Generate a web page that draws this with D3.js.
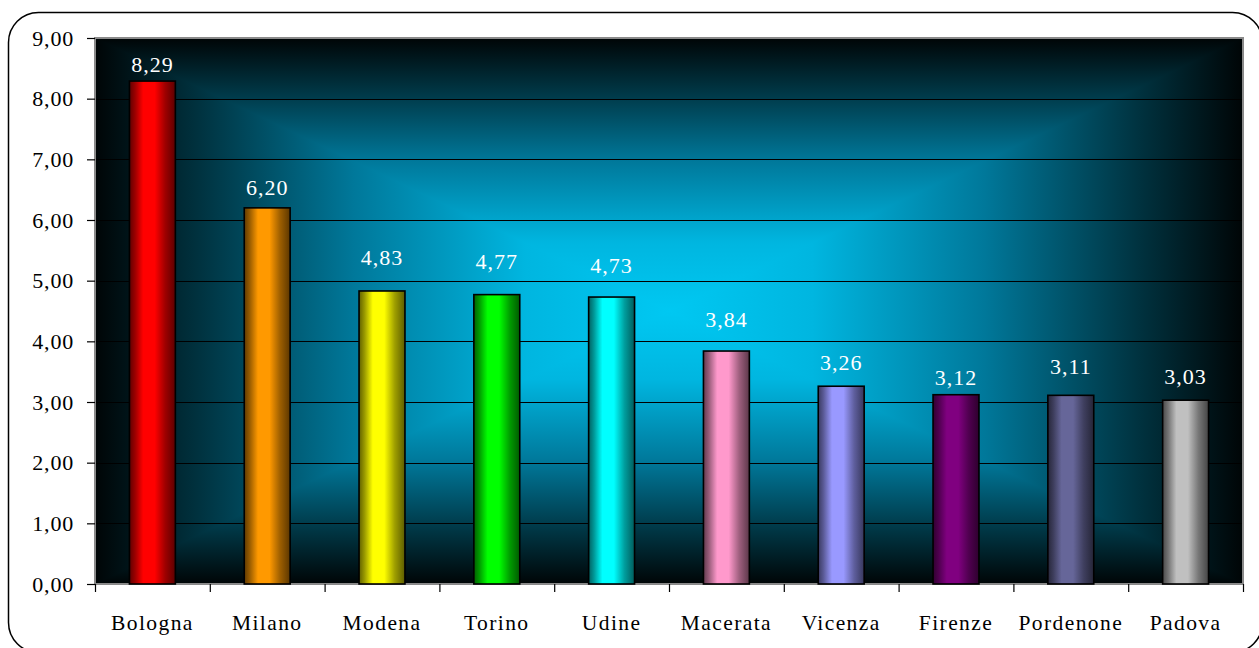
<!DOCTYPE html>
<html>
<head>
<meta charset="utf-8">
<script src="https://cdn.jsdelivr.net/npm/d3@7"></script>
<style>
  body { margin: 0; background: #fff; }
  svg { display: block; }
  text { font-family: "Liberation Serif", "Times New Roman", serif; }
</style>
</head>
<body>
<svg id="chart" width="1259" height="648"></svg>
<script>
var categories = ["Bologna", "Milano", "Modena", "Torino", "Udine", "Macerata", "Vicenza", "Firenze", "Pordenone", "Padova"];
var values = [8.29, 6.20, 4.83, 4.77, 4.73, 3.84, 3.26, 3.12, 3.11, 3.03];
var barColors = ["#ff0000", "#ff9900", "#ffff00", "#00ff00", "#00ffff", "#ff99cc", "#9999ff", "#800080", "#666699", "#c0c0c0"];
var yTicks = [0, 1, 2, 3, 4, 5, 6, 7, 8, 9];

// hand placed data labels in the original: gap above each bar (px)
var labelGap = [9, 13, 26, 26, 24, 24, 16, 10, 21, 16];

var svg = d3.select("#chart"),
    margin = {top: 38, right: 16, bottom: 64, left: 95},
    width = +svg.attr("width") - margin.left - margin.right,
    height = +svg.attr("height") - margin.top - margin.bottom;

var fmt = function(v) { return d3.format(".2f")(v).replace(".", ","); };

// outer frame
svg.append("rect")
    .attr("x", 8.5).attr("y", 12.5)
    .attr("width", 1254).attr("height", 640)
    .attr("rx", 30).attr("ry", 30)
    .attr("fill", "#fff")
    .attr("stroke", "#000")
    .attr("stroke-width", 1.5);

var defs = svg.append("defs");
var g = svg.append("g").attr("transform", "translate(" + margin.left + "," + margin.top + ")");

var x = d3.scaleBand()
    .domain(categories)
    .range([0, width])
    .paddingInner(0.6)
    .paddingOuter(0.3);

var y = d3.scaleLinear()
    .domain([0, 9])
    .range([height, 0]);

// background: rectangular gradient from the centre, built from 4 triangles
var cx = width / 2, cy = height / 2;
var bgStops = [[0, "#000506"], [0.18, "#00323f"], [0.45, "#00789a"], [0.75, "#00b6e0"], [1, "#00c8f2"]];
var sides = [
  {id: "bgT", pts: [[0, 0], [width, 0], [cx, cy]], from: [cx, 0], to: [cx, cy]},
  {id: "bgB", pts: [[0, height], [width, height], [cx, cy]], from: [cx, height], to: [cx, cy]},
  {id: "bgL", pts: [[0, 0], [0, height], [cx, cy]], from: [0, cy], to: [cx, cy]},
  {id: "bgR", pts: [[width, 0], [width, height], [cx, cy]], from: [width, cy], to: [cx, cy]}
];
sides.forEach(function(s) {
  var lg = defs.append("linearGradient")
      .attr("id", s.id)
      .attr("gradientUnits", "userSpaceOnUse")
      .attr("x1", s.from[0]).attr("y1", s.from[1])
      .attr("x2", s.to[0]).attr("y2", s.to[1]);
  bgStops.forEach(function(st) {
    lg.append("stop").attr("offset", st[0]).attr("stop-color", st[1]);
  });
  g.append("polygon")
      .attr("points", s.pts.map(function(p) { return p.join(","); }).join(" "))
      .attr("fill", "url(#" + s.id + ")")
      .attr("shape-rendering", "crispEdges");
});

// gridlines
g.append("g")
  .selectAll("line")
  .data(yTicks.filter(function(d) { return d > 0 && d < 9; }))
  .enter().append("line")
    .attr("x1", 0).attr("x2", width)
    .attr("y1", function(d) { return Math.round(y(d)) + 0.5; })
    .attr("y2", function(d) { return Math.round(y(d)) + 0.5; })
    .attr("stroke", "#000")
    .attr("stroke-width", 1.2);

// plot border
g.append("rect")
    .attr("x", 0).attr("y", 0)
    .attr("width", width).attr("height", height)
    .attr("fill", "none")
    .attr("stroke", "#8a8a8a")
    .attr("stroke-width", 2);

// bar gradients (cylinder shading)
barColors.forEach(function(c, i) {
  var lg = defs.append("linearGradient")
      .attr("id", "bar" + i)
      .attr("x1", 0).attr("x2", 1).attr("y1", 0).attr("y2", 0);
  var base = d3.rgb(c);
  var shade = function(k) {
    return d3.rgb(base.r * k, base.g * k, base.b * k).formatHex();
  };
  [[0, 0.38], [0.12, 0.6], [0.3, 1], [0.55, 1], [0.78, 0.62], [1, 0.36]].forEach(function(st) {
    lg.append("stop").attr("offset", st[0]).attr("stop-color", shade(st[1]));
  });
});

g.selectAll(".bar")
  .data(values)
  .enter().append("rect")
    .attr("class", "bar")
    .attr("x", function(d, i) { return x(categories[i]); })
    .attr("y", function(d) { return y(d); })
    .attr("width", x.bandwidth())
    .attr("height", function(d) { return height - y(d); })
    .attr("fill", function(d, i) { return "url(#bar" + i + ")"; })
    .attr("stroke", "#000")
    .attr("stroke-width", 1.6);

// value labels
g.selectAll(".val")
  .data(values)
  .enter().append("text")
    .attr("class", "val")
    .attr("x", function(d, i) { return x(categories[i]) + x.bandwidth() / 2; })
    .attr("y", function(d, i) { return y(d) - labelGap[i]; })
    .attr("text-anchor", "middle")
    .attr("fill", "#fff")
    .style("font-size", "22px")
    .style("letter-spacing", "1px")
    .text(function(d) { return fmt(d); });

// y axis
var yAxis = g.append("g")
    .call(d3.axisLeft(y).tickValues(yTicks).tickSize(8).tickPadding(13).tickFormat(fmt));
yAxis.select(".domain").remove();
yAxis.selectAll("line").attr("stroke", "#000").attr("stroke-width", 1.2);
yAxis.selectAll("text")
    .attr("fill", "#000")
    .style("font-size", "22px")
    .style("font-family", "'Liberation Serif', serif")
    .style("letter-spacing", "0.8px");

// x axis: ticks at category boundaries, labels centred
var xb = d3.scaleLinear().domain([0, categories.length]).range([0, width]);
var xAxis = g.append("g")
    .attr("transform", "translate(0," + height + ")")
    .call(d3.axisBottom(xb).ticks(categories.length).tickSize(8).tickFormat(""));
xAxis.select(".domain").remove();
xAxis.selectAll("line").attr("stroke", "#000").attr("stroke-width", 1.2);

g.append("g")
  .selectAll("text")
  .data(categories)
  .enter().append("text")
    .attr("x", function(d) { return x(d) + x.bandwidth() / 2; })
    .attr("y", height + 46)
    .attr("text-anchor", "middle")
    .attr("fill", "#000")
    .style("font-size", "21.5px")
    .style("letter-spacing", "1.4px")
    .text(function(d) { return d; });
</script>
</body>
</html>
